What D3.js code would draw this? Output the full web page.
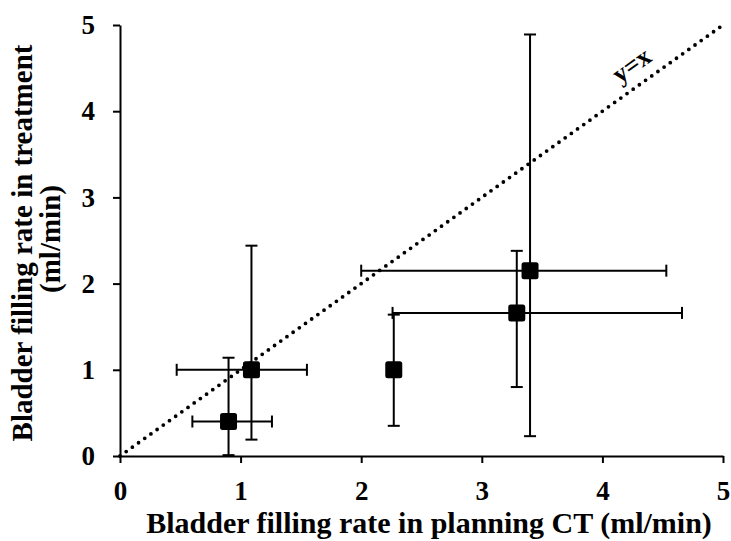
<!DOCTYPE html>
<html>
<head>
<meta charset="utf-8">
<script src="https://cdn.jsdelivr.net/npm/d3@7"></script>
<style>
  body { margin: 0; background: #fff; }
  svg { display: block; }
  text { font-family: "Liberation Serif", "Times New Roman", serif; font-weight: bold; fill: #000; }
</style>
</head>
<body>
<svg id="chart" width="731" height="541"></svg>
<script>
// Planning CT vs treatment bladder filling rate (ml/min), mean with ranges
const planningRate  = [0.90, 1.09, 2.27, 3.29, 3.40];
const treatmentRate = [0.40, 1.00, 1.00, 1.66, 2.15];
const planningLow   = [0.60, 0.47, 2.27, 2.26, 2.00];
const planningHigh  = [1.26, 1.55, 2.27, 4.66, 4.53];
const treatmentLow  = [0.01, 0.19, 0.35, 0.80, 0.23];
const treatmentHigh = [1.14, 2.44, 1.64, 2.38, 4.89];
const tickValues = [0, 1, 2, 3, 4, 5];
const xTitle = "Bladder filling rate in planning CT (ml/min)";
const yTitleLines = ["Bladder filling rate in treatment", "(ml/min)"];
const identityLabel = "y=x";

const svg = d3.select("#chart");
const x = d3.scaleLinear().domain([0, 5]).range([120, 723]);
const y = d3.scaleLinear().domain([0, 5]).range([456, 25]);

// Identity reference line, dotted
svg.append("line")
  .attr("x1", x(0)).attr("y1", y(0))
  .attr("x2", x(5)).attr("y2", y(5))
  .attr("stroke", "#000").attr("stroke-width", 3.8)
  .attr("stroke-linecap", "round")
  .attr("stroke-dasharray", "0 7.6");

const angle = Math.atan2(y(5) - y(0), x(5) - x(0)) * 180 / Math.PI;
svg.append("text")
  .attr("transform", `translate(${x(4.34)},${y(4.34)}) rotate(${angle})`)
  .attr("y", -12)
  .attr("text-anchor", "middle")
  .attr("font-size", 26)
  .text(identityLabel);

// Axes
const xAxis = svg.append("g").attr("transform", `translate(0,${y(0)})`)
  .call(d3.axisBottom(x).tickValues(tickValues).tickFormat(d3.format("d")).tickSizeInner(7).tickSizeOuter(0).tickPadding(18));
const yAxis = svg.append("g").attr("transform", `translate(${x(0)},0)`)
  .call(d3.axisLeft(y).tickValues(tickValues).tickFormat(d3.format("d")).tickSizeInner(7).tickSizeOuter(0).tickPadding(18));
[xAxis, yAxis].forEach(g => {
  g.select(".domain").attr("stroke", "#000").attr("stroke-width", 2);
  g.selectAll(".tick line").attr("stroke", "#000").attr("stroke-width", 2);
  g.selectAll(".tick text").attr("font-size", 27).attr("font-family", "Liberation Serif").attr("font-weight", "bold");
});

// Error bars
const pts = planningRate.map((d, i) => ({
  x: d, y: treatmentRate[i],
  xl: planningLow[i], xh: planningHigh[i],
  yl: treatmentLow[i], yh: treatmentHigh[i]
}));
const cap = 6;
const eb = svg.append("g").attr("stroke", "#000").attr("stroke-width", 2);
pts.forEach(p => {
  if (p.xh > p.xl) {
    eb.append("line").attr("x1", x(p.xl)).attr("x2", x(p.xh)).attr("y1", y(p.y)).attr("y2", y(p.y));
    eb.append("line").attr("x1", x(p.xl)).attr("x2", x(p.xl)).attr("y1", y(p.y) - cap).attr("y2", y(p.y) + cap);
    eb.append("line").attr("x1", x(p.xh)).attr("x2", x(p.xh)).attr("y1", y(p.y) - cap).attr("y2", y(p.y) + cap);
  }
  eb.append("line").attr("x1", x(p.x)).attr("x2", x(p.x)).attr("y1", y(p.yl)).attr("y2", y(p.yh));
  eb.append("line").attr("x1", x(p.x) - cap).attr("x2", x(p.x) + cap).attr("y1", y(p.yl)).attr("y2", y(p.yl));
  eb.append("line").attr("x1", x(p.x) - cap).attr("x2", x(p.x) + cap).attr("y1", y(p.yh)).attr("y2", y(p.yh));
});

// Square markers
const ms = 17;
svg.append("g").selectAll("rect").data(pts).join("rect")
  .attr("x", d => x(d.x) - ms / 2).attr("y", d => y(d.y) - ms / 2)
  .attr("width", ms).attr("height", ms).attr("rx", 2.5)
  .attr("fill", "#000");

// Axis titles
svg.append("text")
  .attr("x", 429).attr("y", 533)
  .attr("text-anchor", "middle").attr("font-size", 30)
  .text(xTitle);

const yt = svg.append("text")
  .attr("transform", "translate(32,243) rotate(-90)")
  .attr("text-anchor", "middle").attr("font-size", 29);
yTitleLines.forEach((t, i) => {
  yt.append("tspan").attr("x", i === 0 ? 0 : 4).attr("dy", i === 0 ? 0 : 28).text(t);
});
</script>
</body>
</html>
